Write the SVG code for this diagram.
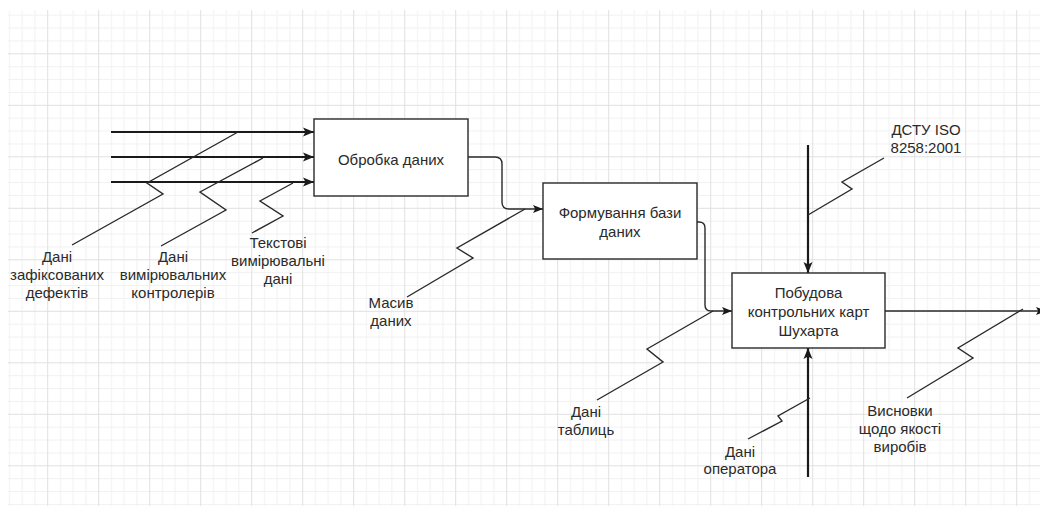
<svg xmlns="http://www.w3.org/2000/svg" width="1040" height="506" viewBox="0 0 1040 506">
  <style>
    .lbl { font-family: "Liberation Sans", Arial, sans-serif; font-size: 15px; fill: #2a2a2a; text-anchor: middle; }
    .box { fill: #ffffff; stroke: #2a2a2a; stroke-width: 1.4; }
    .thick { fill: none; stroke: #1a1a1a; stroke-width: 2.2; }
    .thin { fill: none; stroke: #2a2a2a; stroke-width: 1.4; }
    .sq { fill: none; stroke: #2a2a2a; stroke-width: 1.4; stroke-linejoin: miter; }
  </style>
  <defs>
    <pattern id="grid" patternUnits="userSpaceOnUse" x="47.2" y="53.3" width="51" height="51.5">
      <rect x="12.75" y="0" width="1" height="51.5" fill="#f1f1f1"/>
      <rect x="25.5" y="0" width="1" height="51.5" fill="#f1f1f1"/>
      <rect x="38.25" y="0" width="1" height="51.5" fill="#f1f1f1"/>
      <rect x="0" y="12.9" width="51" height="1" fill="#f1f1f1"/>
      <rect x="0" y="25.75" width="51" height="1" fill="#f1f1f1"/>
      <rect x="0" y="38.6" width="51" height="1" fill="#f1f1f1"/>
      <rect x="0" y="0" width="1" height="51.5" fill="#e0e0e0"/>
      <rect x="0" y="0" width="51" height="1" fill="#e0e0e0"/>
    </pattern>
    <marker id="arr" markerUnits="userSpaceOnUse" markerWidth="12" markerHeight="10" refX="11" refY="5" orient="auto">
      <path d="M0,0.5 L11,5 L0,9.5 L2.5,5 Z" fill="#1a1a1a"/>
    </marker>
    <marker id="arrs" markerUnits="userSpaceOnUse" markerWidth="12" markerHeight="10" refX="10" refY="4.5" orient="auto">
      <path d="M0,0.5 L10,4.5 L0,8.5 L2.2,4.5 Z" fill="#1a1a1a"/>
    </marker>
  </defs>

  <rect x="0" y="0" width="1040" height="506" fill="#ffffff"/>
  <rect x="8" y="10" width="1032" height="496" fill="url(#grid)"/>

  <g id="connectors">
    <!-- inputs to box 1 -->
    <path class="thick" d="M111,132 H314" marker-end="url(#arr)"/>
    <path class="thick" d="M111,157 H314" marker-end="url(#arr)"/>
    <path class="thick" d="M111,182 H314" marker-end="url(#arr)"/>
    <!-- box1 -> box2 -->
    <path class="thin" d="M468,157 H495 Q502,157 502,164 V202 Q502,209 509,209 H543" marker-end="url(#arrs)"/>
    <!-- box2 -> box3 -->
    <path class="thin" d="M697,222 H699 Q705,222 705,228 V305 Q705,311 711,311 H732" marker-end="url(#arrs)"/>
    <!-- output -->
    <path class="thin" d="M885,311 H1046" marker-end="url(#arrs)"/>
    <!-- control -->
    <path class="thick" d="M808,145 V273" marker-end="url(#arr)"/>
    <!-- mechanism -->
    <path class="thick" d="M808,477 V348" marker-end="url(#arr)"/>
    <!-- squiggle label leaders -->
    <path class="sq" d="M238,132 L147,183 L163,194 L72,245"/>
    <path class="sq" d="M263,158 L200,192 L226,210 L161,246"/>
    <path class="sq" d="M293,183 L260,201 L283,216 L252,233"/>
    <path class="sq" d="M525,209 L457,248 L473,258 L407,297"/>
    <path class="sq" d="M884,158 L842,182 L852,189 L808,215"/>
    <path class="sq" d="M713,311 L647,349 L663,362 L597,400"/>
    <path class="sq" d="M1023,309 L958,348 L973,358 L907,398"/>
    <path class="sq" d="M810,398 L778,416 L782,421 L748,439"/>
  </g>

  <g id="node-obrobka">
    <rect class="box" x="314" y="119" width="154" height="77"/>
    <text class="lbl" x="391" y="165">Обробка даних</text>
  </g>

  <g id="node-formuvannia">
    <rect class="box" x="543" y="183" width="154" height="76"/>
    <text class="lbl" x="620" y="218">Формування бази</text>
    <text class="lbl" x="620" y="237">даних</text>
  </g>

  <g id="node-pobudova">
    <rect class="box" x="732" y="273" width="153" height="75"/>
    <text class="lbl" x="808.5" y="298">Побудова</text>
    <text class="lbl" x="808.5" y="317">контрольних карт</text>
    <text class="lbl" x="808.5" y="336">Шухарта</text>
  </g>

  <g id="label-defekty">
    <text class="lbl" x="57" y="262">Дані</text>
    <text class="lbl" x="57" y="280">зафіксованих</text>
    <text class="lbl" x="57" y="298">дефектів</text>
  </g>
  <g id="label-kontrolery">
    <text class="lbl" x="173" y="262">Дані</text>
    <text class="lbl" x="173" y="280">вимірювальних</text>
    <text class="lbl" x="173" y="298">контролерів</text>
  </g>
  <g id="label-tekstovi">
    <text class="lbl" x="278" y="248">Текстові</text>
    <text class="lbl" x="278" y="266">вимірювальні</text>
    <text class="lbl" x="278" y="284">дані</text>
  </g>
  <g id="label-masyv">
    <text class="lbl" x="391" y="308">Масив</text>
    <text class="lbl" x="391" y="326">даних</text>
  </g>
  <g id="label-dstu">
    <text class="lbl" x="926" y="135">ДСТУ ISO</text>
    <text class="lbl" x="926" y="153">8258:2001</text>
  </g>
  <g id="label-tablyts">
    <text class="lbl" x="586" y="417">Дані</text>
    <text class="lbl" x="586" y="435">таблиць</text>
  </g>
  <g id="label-operatora">
    <text class="lbl" x="740" y="457">Дані</text>
    <text class="lbl" x="740" y="474">оператора</text>
  </g>
  <g id="label-vysnovky">
    <text class="lbl" x="900" y="416">Висновки</text>
    <text class="lbl" x="900" y="434">щодо якості</text>
    <text class="lbl" x="900" y="452">виробів</text>
  </g>
</svg>
